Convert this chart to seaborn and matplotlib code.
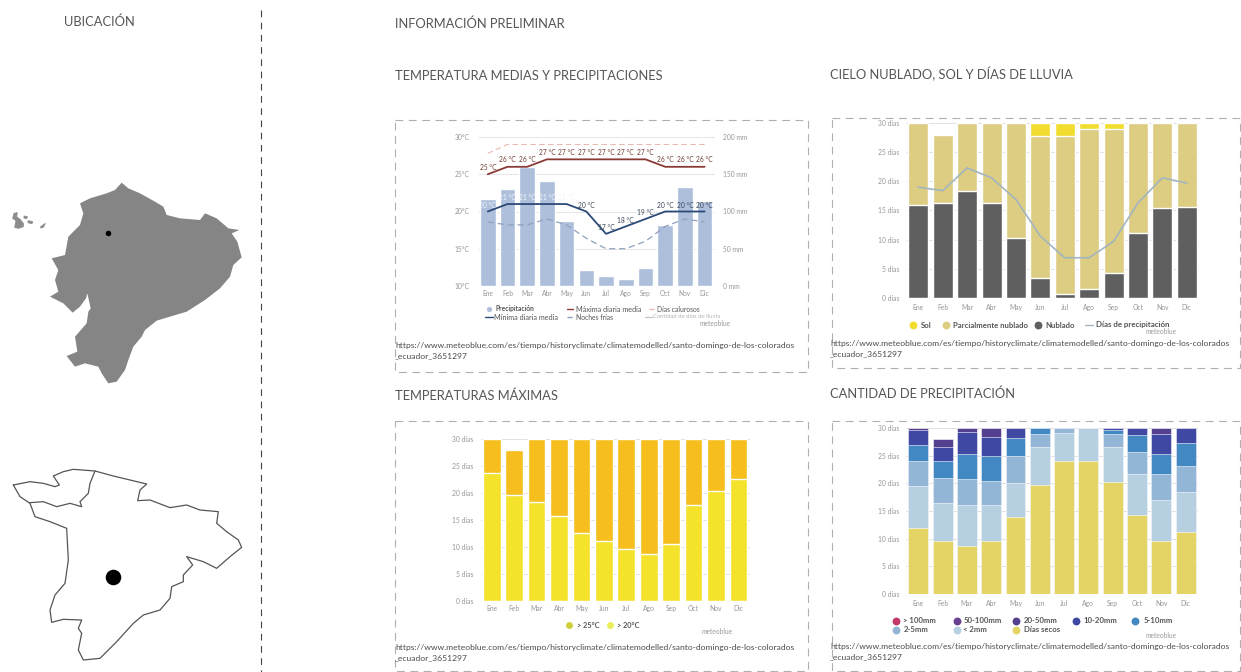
import numpy as np
import pandas as pd
import matplotlib
matplotlib.use("Agg")
import matplotlib.pyplot as plt
import seaborn as sns

months = ["Ene","Feb","Mar","Abr","May","Jun","Jul","Ago","Sep","Oct","Nov","Dic"]

# Chart 1
precip_mm = [117,130,160,141,87.5,21,13,10,24.5,82,133,114]
temp_max = [25,26,26,27,27,27,27,27,27,26,26,26]
temp_min = [20,21,21,21,21,20,17,18,19,20,20,20]
hot_days = [27.8,29,29,29,29,29,29,29,29,29,29,29]
cold_nights = [18.6,18.2,18.2,19,18.2,16.4,15,15,16,18,19,18.6]

# Chart 2
cloudy = [15.9,16.3,18.4,16.2,10.3,3.4,0.7,1.6,4.3,11.1,15.4,15.6]
partly = [14.1,11.7,11.6,13.8,19.7,24.4,27.1,27.4,24.6,18.9,14.6,14.4]
sunny = [0,0,0,0,0,2.2,2.2,1.0,1.1,0,0,0]
rain_days = [19,18.4,22.3,20.6,16.9,10.6,6.9,6.9,9.7,16.3,20.6,19.7]

# Chart 3
over_20 = [23.6,19.7,18.35,15.7,12.6,11,9.5,8.6,10.5,17.7,20.3,22.6]
over_25 = [6.4,8.3,11.65,14.3,17.4,19,20.5,21.4,19.5,12.3,9.7,7.4]

# Chart 4
dry = [12.0,9.5,8.6,9.5,14.0,19.7,24.1,24.1,20.3,14.3,9.5,11.2]
mm_lt2 = [7.6,6.9,7.4,6.5,6.1,6.8,5.0,5.9,6.2,7.3,7.4,7.2]
mm_2_5 = [4.5,4.6,4.8,4.5,4.9,2.5,0.9,0,2.5,4.1,4.8,4.8]
mm_5_10 = [2.9,3.1,4.5,4.5,3.2,1.0,0,0,0.7,3.0,3.6,4.0]
mm_10_20 = [2.6,2.4,4.0,3.4,1.8,0,0,0,0.3,1.3,3.7,2.8]
mm_20_50 = [0.4,1.6,0.7,1.6,0,0,0,0,0,0,1.0,0]

# Map outlines (picture pixels)
ecuador_x = np.array([365,385,420,465,490,500,540,600,615,650,685,718,695,712,725,700,690,660,615,560,520,470,435,425,400,385,375,350,325,305,295,255,225,200,232,225,260,265,272,262,258,240,218,190,150,175,165,175,155,195,205,240,250,240,270,320,345])/3
ecuador_y = 170+np.array([38,55,70,95,110,135,145,150,130,145,175,180,190,215,262,285,320,355,390,425,437,452,480,500,530,570,600,635,640,610,590,580,590,558,545,500,460,425,415,370,385,410,428,400,380,365,330,300,265,255,200,165,130,100,85,70,60])/3
canton_x = np.array([40,90,130,165,178,160,190,220,285,340,390,440,420,413,450,510,560,600,655,650,680,715,725,690,650,610,560,578,550,550,515,510,480,430,400,350,300,250,235,245,235,245,190,155,150,165,195,205,200,150,105,90,60,40])/3
canton_y = 460+np.array([75,65,70,80,75,48,35,28,33,48,60,72,90,122,120,143,135,150,155,190,215,240,262,290,325,305,290,315,345,365,380,415,450,465,490,545,595,600,570,520,505,480,478,487,450,405,370,300,205,185,170,130,110,75])/3
canton_in_x = np.array([285,270,265,240,245,210,170,130,90])/3
canton_in_y = 460+np.array([33,70,100,125,140,130,140,125,128])/3
gal_x = [[42,52,50,60,70,70,55,44,48,38],[72,82,80,72],[84,98,96,84],[122,136,130,122]]
gal_y = [[130,128,140,148,160,170,175,172,152,145],[138,140,146,144],[152,155,161,158],[170,160,172,174]]

sns.set_theme(style="white")
plt.rcParams["font.family"] = ["Lato", "DejaVu Sans"]

W, H = 1241, 672
fig = plt.figure(figsize=(W/100, H/100), dpi=100, facecolor="white")

TICK = "#969696"

def box(left, top, right, bottom):
    return fig.add_axes([left/W, 1-bottom/H, (right-left)/W, (bottom-top)/H])

def style(ax, ymax, step, suffix, grid="#dcdcdc", size=4.9, padx=4):
    ax.set_facecolor("none")
    ax.set_xlim(-0.5, 11.5)
    ax.set_ylim(0, ymax)
    ax.set_yticks(np.arange(0, ymax+0.1, step))
    ax.set_yticklabels([f"{int(v)} {suffix}" for v in np.arange(0, ymax+0.1, step)])
    ax.set_xlabel(""); ax.set_ylabel("")
    ax.tick_params(length=0, labelsize=size, labelcolor=TICK)
    ax.tick_params(axis="y", pad=5)
    ax.tick_params(axis="x", pad=padx)
    ax.grid(axis="y", color=grid, lw=0.6)
    ax.set_axisbelow(True)
    sns.despine(ax=ax, left=True, bottom=True)

def stacked(ax, layers, colors, width, **kw):
    cum = np.cumsum(np.array(layers, dtype=float), axis=0)
    for vals, c in reversed(list(zip(cum, colors))):
        sns.barplot(x=months, y=vals, color=c, saturation=1, width=width, ax=ax, zorder=2, **kw)

# Chart 1
ax1 = box(477.9, 137, 714.5, 286)
sns.barplot(x=months, y=precip_mm, color="#adbfdb", saturation=1, width=0.79, ax=ax1, zorder=2)
style(ax1, 200, 50, "mm", grid="#e2e2e2", size=4.8, padx=3)
t1 = ax1.twinx()
ax1.yaxis.tick_right()
ax1.set_yticks([0,50,100,150,200])
ax1.set_yticklabels(["0 mm","50 mm","100 mm","150 mm","200 mm"])
ax1.tick_params(axis="y", pad=6, length=0)
t1.set_facecolor("none")
xs = np.arange(12)
sns.lineplot(x=xs, y=hot_days, ax=t1, color="#e8b9b0", lw=0.8, ls=(0,(5,3)))
sns.lineplot(x=xs, y=cold_nights, ax=t1, color="#8ea1bd", lw=0.9, ls=(0,(5,3)))
sns.lineplot(x=xs, y=temp_max, ax=t1, color="#8a3a34", lw=1.3)
sns.lineplot(x=xs, y=temp_min, ax=t1, color="#2b4a78", lw=1.3)
t1.set_ylim(10, 30)
t1.set_yticks([10,15,20,25,30])
t1.set_yticklabels(["10°C","15°C","20°C","25°C","30°C"])
t1.yaxis.tick_left()
t1.tick_params(length=0, labelsize=4.8, labelcolor=TICK, pad=6)
t1.set_ylabel("")
sns.despine(ax=t1, left=True, right=True, bottom=True)
for i in xs:
    t1.text(i, temp_max[i]+0.95, f"{temp_max[i]} °C", ha="center", va="center", fontsize=4.8, color="#6b3a30")
    c = "#f4f6fa" if i < 5 else "#3a4658"
    t1.text(i, temp_min[i]+0.85, f"{temp_min[i]} °C", ha="center", va="center", fontsize=4.8, color=c)

# Chart 2
ax2 = box(906.1, 123, 1199, 298)
stacked(ax2, [cloudy, partly, sunny], ["#5f5f5f", "#dccd82", "#f2dc2e"], 0.82)
style(ax2, 30, 5, "días")
sns.lineplot(x=xs, y=rain_days, ax=ax2, color="#a3b5c0", lw=1.2, zorder=3)
ax2.set_xlim(-0.5, 11.5)

# Chart 3
ax3 = box(480.6, 439, 749.6, 600.7)
stacked(ax3, [over_20, over_25], ["#f4e22b", "#f6bf1e"], 0.79)
style(ax3, 30, 5, "días", padx=3)

# Chart 4
ax4 = box(906.2, 428, 1197.7, 594)
stacked(ax4, [dry, mm_lt2, mm_2_5, mm_5_10, mm_10_20, mm_20_50],
        ["#e3d465", "#b7d0e1", "#93b5d6", "#4288c3", "#3f48a2", "#55408f"], 0.82,
        edgecolor="white", linewidth=0.4)
style(ax4, 30, 5, "días")

# Overlay in picture pixels
ov = fig.add_axes([0, 0, 1, 1], zorder=10)
ov.set_xlim(0, W); ov.set_ylim(H, 0)
ov.axis("off"); ov.patch.set_alpha(0)

TXT = "#555555"
def head(x, y, s):
    ov.text(x, y+4.5, s, fontsize=9.3, color=TXT, ha="left", va="baseline")

head(64, 22, "UBICACIÓN")
head(395, 23, "INFORMACIÓN PRELIMINAR")
head(395, 75, "TEMPERATURA MEDIAS Y PRECIPITACIONES")
head(830, 75, "CIELO NUBLADO, SOL Y DÍAS DE LLUVIA")
head(395, 395, "TEMPERATURAS MÁXIMAS")
head(830, 394, "CANTIDAD DE PRECIPITACIÓN")

ov.plot([261, 261], [10, 672], color="#444444", lw=0.8, ls=(0, (6, 5)))

DASH = (0, (7, 5))
for l, t, r, b in [(395, 120, 808, 372), (832, 118, 1240, 368), (395, 421, 808, 671), (832, 421, 1240, 671)]:
    ov.plot([l, r, r, l, l], [t, t, b, b, t], color="#b0b0b0", lw=0.8, ls=DASH, clip_on=False)

url1 = "https://www.meteoblue.com/es/tiempo/historyclimate/climatemodelled/santo-domingo-de-los-colorados"
url2 = "_ecuador_3651297"
for x, y1 in [(395, 345.5), (830, 343.5), (395, 647.5), (830, 646)]:
    ov.text(x, y1, url1, fontsize=6.1, color="#4a4a4a", va="center")
    ov.text(x, y1+10.5, url2, fontsize=6.1, color="#4a4a4a", va="center")

LEG = "#555555"
def dot(ox, oy, zx, zy, c, label, zt, size=4.8, s=14):
    ov.scatter([ox+zx/3], [oy+zy/3], s=s, color=c, linewidths=0)
    ov.text(ox+zt/3, oy+zy/3, label, fontsize=size, color=LEG, va="center", fontweight="bold")
def line(ox, oy, z0, z1, zy, c, label, zt, ls="-", tc=LEG, size=4.9, fw="normal"):
    ov.plot([ox+z0/3, ox+z1/3], [oy+zy/3]*2, color=c, lw=1, ls=ls)
    ov.text(ox+zt/3, oy+zy/3, label, fontsize=size, color=tc, va="center", fontweight=fw)
def brand(ox, oy, zx, zy):
    ov.text(ox+zx/3, oy+zy/3, "meteoblue", fontsize=4.8, color="#999999", va="center")

ox, oy = 395, 115
dot(ox, oy, 283, 582, "#adbfdb", "Precipitación", 303)
line(ox, oy, 515, 535, 582, "#8a3a34", "Máxima diaria media", 543, size=5.2)
line(ox, oy, 762, 778, 582, "#e8b9b0", "Días calurosos", 785, ls="--")
line(ox, oy, 270, 295, 606, "#2b4a78", "Mínima diaria media", 297, size=5.2)
line(ox, oy, 515, 535, 606, "#8ea1bd", "Noches frías", 543, ls="--")
line(ox, oy, 750, 770, 606, "#c9c9c9", "Cantidad de días de lluvia", 775, tc="#b5b5b5", size=4.3)
brand(ox, oy, 912, 625)

ox, oy = 825, 110
dot(ox, oy, 265, 645, "#f2dc2e", "Sol", 288, size=5.6, s=32)
dot(ox, oy, 362, 645, "#dccd82", "Parcialmente nublado", 385, size=5.6, s=32)
dot(ox, oy, 640, 645, "#5f5f5f", "Nublado", 660, size=5.6, s=32)
line(ox, oy, 780, 805, 645, "#a3b5c0", "Días de precipitación", 812, size=5.7, fw="bold")
brand(ox, oy, 960, 665)

ox, oy = 395, 415
dot(ox, oy, 522, 630, "#cfd03a", "> 25°C", 545, size=5.3, s=25)
dot(ox, oy, 645, 630, "#eaec5a", "> 20°C", 665, size=5.3, s=25)
brand(ox, oy, 920, 650)

ox, oy = 825, 415
S4 = dict(size=5.6, s=32)
dot(ox, oy, 213, 617, "#c2386b", "> 100mm", 235, **S4)
dot(ox, oy, 395, 617, "#6b3f8f", "50-100mm", 415, **S4)
dot(ox, oy, 573, 617, "#55408f", "20-50mm", 597, **S4)
dot(ox, oy, 752, 617, "#3f48a2", "10-20mm", 775, **S4)
dot(ox, oy, 930, 617, "#4288c3", "5-10mm", 955, **S4)
dot(ox, oy, 213, 645, "#93b5d6", "2-5mm", 235, **S4)
dot(ox, oy, 395, 645, "#b7d0e1", "< 2mm", 415, **S4)
dot(ox, oy, 573, 645, "#e3d465", "Días secos", 597, **S4)
brand(ox, oy, 960, 662)

# Maps
ov.fill(ecuador_x, ecuador_y, color="#858585", lw=0)
for gx, gy in zip(gal_x, gal_y):
    ov.fill(np.array(gx)/3, 170+np.array(gy)/3, color="#8c8c8c", lw=0.6, ec="#8c8c8c")
ov.scatter([107.7], [233.3], s=16, color="black", linewidths=0)

ov.plot(canton_x, canton_y, color="#555555", lw=0.9)
ov.plot(canton_in_x, canton_in_y, color="#555555", lw=0.9)
ov.scatter([113.3], [576.7], s=125, color="black", linewidths=0)

fig.savefig("out.png", dpi=100, facecolor="white")
